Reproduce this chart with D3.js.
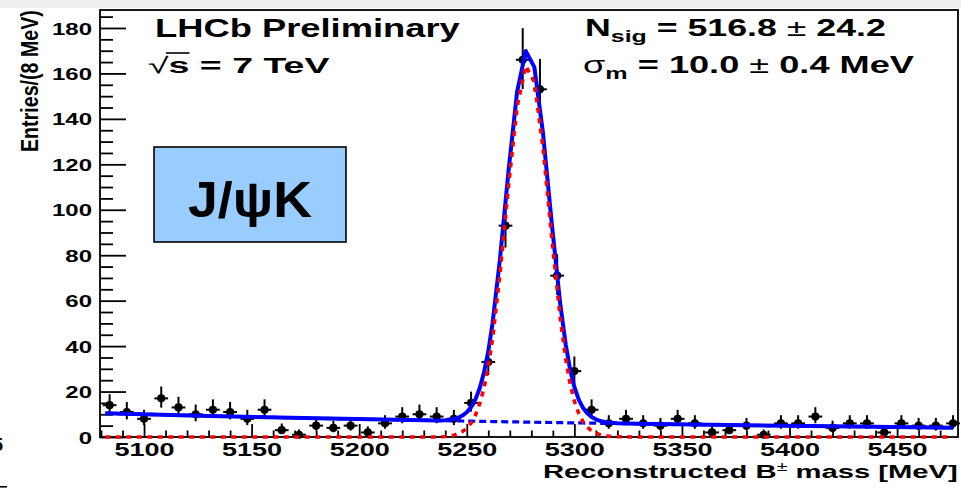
<!DOCTYPE html>
<html><head><meta charset="utf-8">
<script src="https://cdn.jsdelivr.net/npm/d3@7"></script>
<style>html,body{margin:0;padding:0;background:#fff;} svg{display:block;}</style>
</head><body>
<svg id="c" width="961" height="490"></svg>
<script>
// ---------------- data ----------------
const binCenters = [5084,5092,5100,5108,5116,5124,5132,5140,5148,5156,
                    5164,5172,5180,5188,5196,5204,5212,5220,5228,5236,
                    5244,5252,5260,5268,5276,5284,5292,5300,5308,5316,
                    5324,5332,5340,5348,5356,5364,5372,5380,5388,5396,
                    5404,5412,5420,5428,5436,5444,5452,5460,5468,5476];
const counts = [14,11,8,17,13,10,12,11,8,12,
                3,1,5,4,5,2,6,9,10,9,
                8,15,33,93,166,153,71,29,12,6,
                8,6,5,8,6,2,3,5,1,6,
                6,9,4,6,6,2,6,5,5,6];
const curveMass = [5082,5130,5180,5230,5236,5240,5244,5246,5248,5250,5252,5254,5256,5258,5260,5262,
                   5265.4,5269.4,5273.4,5277.4,5281.4,5285.4,5289.4,5293.4,
                   5296,5298,5300,5302,5304,5306,5308,5310,5312,5316,5320,5330,5380,5430,5476];
const sigCurve  = [0,0,0,0,0.03,0.2,0.8,1.4,2.4,3.9,6.2,9.6,14.6,21.5,30.9,43.4,
                   71.4,110.4,145.4,163.3,156.3,127.5,88.6,52.5,
                   34.3,23.6,15.8,10.4,6.7,4.3,2.7,1.7,1.0,0.35,0.1,0,0,0,0];
const bkgCurve  = [10.40,9.29,8.25,7.33,7.23,7.16,7.09,7.06,7.03,6.99,6.96,6.93,6.89,6.86,6.83,6.80,
                   6.74,6.68,6.62,6.55,6.49,6.43,6.37,6.31,
                   6.27,6.24,6.21,6.18,6.15,6.13,6.10,6.07,6.04,5.98,5.93,5.79,5.14,4.57,4.10];
const xMajorTicks = [5100,5150,5200,5250,5300,5350,5400,5450];
const xTickLabels = ["5100","5150","5200","5250","5300","5350","5400","5450"];
const yMajorTicks = [0,20,40,60,80,100,120,140,160,180];
const yTickLabels = ["0","20","40","60","80","100","120","140","160","180"];

// ---------------- setup ----------------
const FF = '"Liberation Sans", Arial, Helvetica, sans-serif';
const svg = d3.select('#c');
const x = d3.scaleLinear().domain([5080, 5478.3]).range([101, 958]);
const y = d3.scaleLinear().domain([0, 188]).range([437, 9.8]);
const X0 = 100, X1 = 958, Y0 = 437, Y1 = 10;

svg.append('rect').attr('x',0).attr('y',0).attr('width',961).attr('height',490).attr('fill','#fff');
svg.append('rect').attr('x',0).attr('y',0).attr('width',961).attr('height',8).attr('fill','#efefef');

// helper: text fitted horizontally to a given extent
function fitText(parent, parts, opt){
  const g = parent.append('g');
  const t = g.append('text').attr('font-family', FF).attr('fill', '#000');
  let cur = 0;
  parts.forEach(p => {
    const ts = t.append('tspan').text(p.t).attr('font-size', p.fs).attr('font-weight', p.fw || 'bold');
    const d = (p.dy || 0) - cur;
    if (d) ts.attr('dy', d);
    cur = p.dy || 0;
    if (p.ff) ts.attr('font-family', p.ff);
  });
  const bb = t.node().getBBox();
  if (opt.rot) {
    const s = opt.len / bb.width;
    g.attr('transform', `translate(${opt.x0},${opt.y0}) rotate(-90) scale(${s},1) translate(${-bb.x},0)`);
  } else {
    const s = (opt.R - opt.L) / bb.width;
    g.attr('transform', `translate(${opt.L},${opt.base}) scale(${s},1) translate(${-bb.x},0)`);
  }
  return {g, t};
}

// ---------------- axes ----------------
const axG = svg.append('g');
const yMinor = d3.range(0, 186, 5).filter(v => v % 20 !== 0);
const xMinor = d3.range(5080, 5479, 10).filter(v => v % 50 !== 0);

const yAxisMajor = d3.axisLeft(y).tickValues(yMajorTicks).tickSizeInner(-26).tickSizeOuter(0).tickPadding(8)
  .tickFormat((d,i) => yTickLabels[i]);
const yAxisMinor = d3.axisLeft(y).tickValues(yMinor).tickSizeInner(-13).tickSizeOuter(0).tickFormat('');
const xAxisMajor = d3.axisBottom(x).tickValues(xMajorTicks).tickSizeInner(-13).tickSizeOuter(0).tickPadding(6)
  .tickFormat((d,i) => xTickLabels[i]);
const xAxisMinor = d3.axisBottom(x).tickValues(xMinor).tickSizeInner(-6.5).tickSizeOuter(0).tickFormat('');

function styleAxis(g){
  g.select('.domain').remove();
  g.selectAll('.tick line').attr('stroke','#000').attr('stroke-width',1.8);
  g.selectAll('.tick text').attr('fill','#000').attr('font-family',FF).attr('font-weight','bold');
}
const gy = axG.append('g').attr('transform',`translate(${X0},0)`).call(yAxisMajor); styleAxis(gy);
const gy2 = axG.append('g').attr('transform',`translate(${X0},0)`).call(yAxisMinor); styleAxis(gy2);
const gx = axG.append('g').attr('transform',`translate(0,${Y0})`).call(xAxisMajor); styleAxis(gx);
const gx2 = axG.append('g').attr('transform',`translate(0,${Y0})`).call(xAxisMinor); styleAxis(gx2);

gy.selectAll('.tick text').attr('font-size',17).attr('dy','0.36em')
  .attr('transform','translate(-8,0) scale(1.41,1) translate(8,0)');
gx.selectAll('.tick text').attr('font-size',18.5)
  .attr('transform','scale(1.46,1)');

// frame
svg.append('rect').attr('x',X0).attr('y',Y1).attr('width',X1-X0).attr('height',Y0-Y1)
  .attr('fill','none').attr('stroke','#000').attr('stroke-width',1.8);

// ---------------- data points ----------------
const dataG = svg.append('g');
const pts = binCenters.map((c,i) => {
  const n = counts[i];
  const up = n + 1 + Math.sqrt(n + 0.75);
  const lo = n * Math.pow(1 - 1/(9*n) - 1/(3*Math.sqrt(n)), 3);
  return {c, n, up, lo};
});
dataG.selectAll('line.v').data(pts).join('line').attr('class','v')
  .attr('x1',d=>x(d.c)).attr('x2',d=>x(d.c)).attr('y1',d=>y(d.lo)).attr('y2',d=>y(d.up))
  .attr('stroke','#000').attr('stroke-width',2);
dataG.selectAll('line.h').data(pts).join('line').attr('class','h')
  .attr('x1',d=>x(d.c-3.2)).attr('x2',d=>x(d.c+3.2)).attr('y1',d=>y(d.n)).attr('y2',d=>y(d.n))
  .attr('stroke','#000').attr('stroke-width',2);
dataG.selectAll('circle').data(pts).join('circle')
  .attr('cx',d=>x(d.c)).attr('cy',d=>y(d.n)).attr('r',4.1).attr('fill','#000');

// ---------------- fit curves ----------------
const curve = curveMass.map((m,i) => ({m, s: sigCurve[i], b: bkgCurve[i], t: sigCurve[i] + bkgCurve[i]}));
svg.append('clipPath').attr('id','pc').append('rect')
  .attr('x',X0).attr('y',Y1).attr('width',X1-X0).attr('height',Y0-Y1+3);
const cg = svg.append('g').attr('clip-path','url(#pc)');
cg.append('path').datum(curve).attr('fill','none').attr('stroke','#0000ff').attr('stroke-width',4)
  .attr('stroke-linejoin','round')
  .attr('d', d3.line().x(d=>x(d.m)).y(d=>y(d.t)));
cg.append('path').datum(curve).attr('fill','none').attr('stroke','#0000ff').attr('stroke-width',3.2)
  .attr('stroke-dasharray','7 4')
  .attr('d', d3.line().x(d=>x(d.m)).y(d=>y(d.b)));
cg.append('path').datum(curve).attr('fill','none').attr('stroke','#ff0000').attr('stroke-width',3.6)
  .attr('stroke-dasharray','5 5.5')
  .attr('d', d3.line().x(d=>x(d.m)).y(d=>y(d.s)));

// ---------------- texts ----------------
fitText(svg, [{t:'LHCb Preliminary', fs:25}], {L:155, R:460, base:37});

const sq = fitText(svg, [{t:'\u221A', fs:22, fw:'normal'}, {t:'s = 7 TeV', fs:22}], {L:148, R:330, base:73});
{
  const tn = sq.t.node();
  const e0 = tn.getExtentOfChar(0), e1 = tn.getExtentOfChar(1);
  sq.g.append('line').attr('x1', e0.x + e0.width - 1.5).attr('x2', e1.x + e1.width)
    .attr('y1', -20).attr('y2', -20).attr('stroke','#000').attr('stroke-width',1.6);
}

fitText(svg, [{t:'N', fs:23}, {t:'sig', fs:16, dy:6}, {t:' = 516.8 ', fs:23, dy:0},
              {t:'\u00B1', fs:23, fw:'normal'}, {t:' 24.2', fs:23}], {L:585, R:886, base:36});
fitText(svg, [{t:'\u03C3', fs:23, fw:'normal'}, {t:'m', fs:16, dy:6}, {t:' = 10.0 ', fs:23, dy:0},
              {t:'\u00B1', fs:23, fw:'normal'}, {t:' 0.4 MeV', fs:23}], {L:583, R:915, base:73});

// label box
svg.append('rect').attr('x',154).attr('y',147).attr('width',192).attr('height',95)
  .attr('fill','#99ccff').attr('stroke','#000').attr('stroke-width',1.6);
fitText(svg, [{t:'J/\u03C8K', fs:50}], {L:188, R:312, base:217});

// axis titles
fitText(svg, [{t:'Reconstructed B', fs:18}, {t:'\u00B1', fs:12, fw:'normal', dy:-7},
              {t:' mass [MeV]', fs:18, dy:0}], {L:543, R:958, base:478});
fitText(svg, [{t:'Entries/(8 MeV)', fs:24}], {rot:true, x0:38, y0:152, len:142});

// cropped-edge remnants from the source image
svg.append('text').attr('x',3).attr('y',451).attr('text-anchor','end').attr('font-family',FF)
  .attr('font-weight','bold').attr('font-size',18).text('5');
svg.append('rect').attr('x',0).attr('y',486).attr('width',7).attr('height',1.6).attr('fill','#000');
</script>
</body></html>
